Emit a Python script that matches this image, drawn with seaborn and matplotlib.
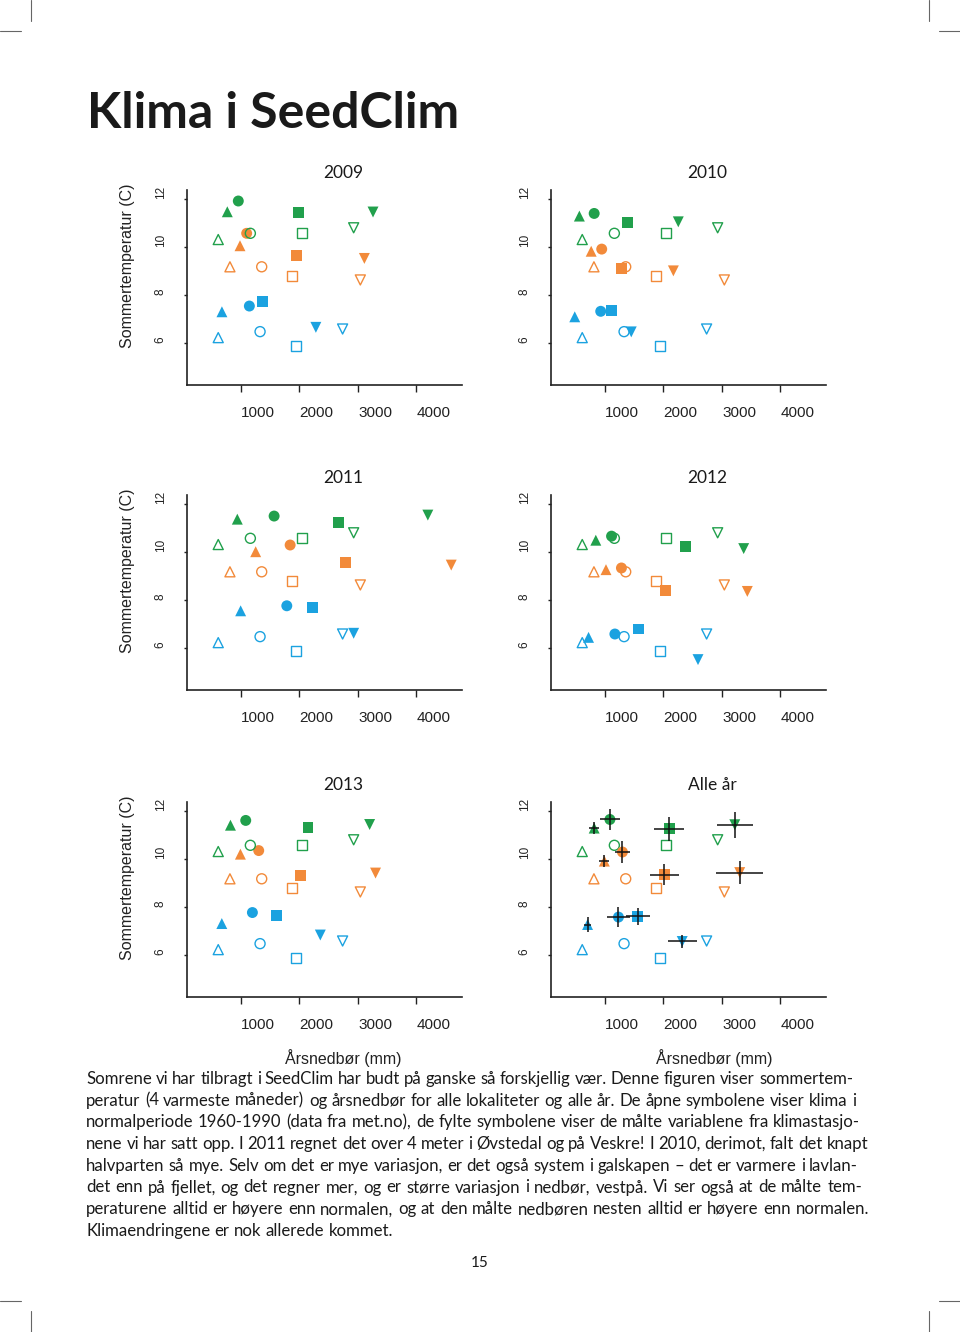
import numpy as np
import pandas as pd
import seaborn as sns
import matplotlib.pyplot as plt
from matplotlib.lines import Line2D

# === Data: 12 SeedClim sites (3 temperature zones x 4 precipitation levels) ===
zone = ["varm"] * 4 + ["mellom"] * 4 + ["kald"] * 4
level = ["1", "2", "3", "4"] * 3

# climate normals 1960-1990 (open symbols)
normal_precip = [611, 1160, 2046, 2926, 811, 1354, 1869, 3040, 611, 1326, 1943, 2737]
normal_temp = [10.31, 10.57, 10.59, 10.80, 9.17, 9.17, 8.78, 8.62, 6.21, 6.46, 5.87, 6.57]

# measured at the climate stations (filled symbols)
precip_2009 = [766, 954, 1983, 3257, 983, 1097, 1943, 3109, 674, 1143, 1371, 2280]
temp_2009 = [11.47, 11.92, 11.44, 11.46, 10.05, 10.57, 9.66, 9.52, 7.29, 7.53, 7.71, 6.64]

precip_2010 = [562, 815, 1382, 2253, 764, 944, 1281, 2169, 483, 927, 1112, 1449]
temp_2010 = [11.29, 11.40, 11.01, 11.05, 9.82, 9.91, 9.10, 9.00, 7.08, 7.31, 7.33, 6.45]

precip_2011 = [937, 1566, 2669, 4194, 1251, 1840, 2789, 4594, 994, 1783, 2217, 2926]
temp_2011 = [11.37, 11.50, 11.22, 11.54, 10.01, 10.29, 9.56, 9.45, 7.54, 7.75, 7.67, 6.60]

precip_2012 = [843, 1112, 2376, 3371, 1017, 1281, 2039, 3433, 719, 1169, 1573, 2590]
temp_2012 = [10.49, 10.66, 10.24, 10.14, 9.26, 9.33, 8.39, 8.35, 6.43, 6.57, 6.78, 5.50]

precip_2013 = [820, 1081, 2145, 3199, 990, 1303, 2015, 3300, 672, 1195, 1605, 2356]
temp_2013 = [11.41, 11.61, 11.30, 11.44, 10.20, 10.35, 9.31, 9.41, 7.30, 7.76, 7.65, 6.82]

# all years: mean with spread
precip_mean = [815, 1084, 2096, 3219, 989, 1298, 2011, 3303, 702, 1230, 1562, 2320]
temp_mean = [11.29, 11.65, 11.26, 11.43, 9.91, 10.29, 9.34, 9.43, 7.26, 7.57, 7.60, 6.55]
precip_err = [80, 170, 250, 310, 85, 135, 250, 400, 65, 200, 200, 250]
temp_err = [0.25, 0.45, 0.50, 0.55, 0.25, 0.45, 0.43, 0.48, 0.30, 0.42, 0.35, 0.28]

years = ["2009", "2010", "2011", "2012", "2013"]
measured = {
    "2009": (precip_2009, temp_2009),
    "2010": (precip_2010, temp_2010),
    "2011": (precip_2011, temp_2011),
    "2012": (precip_2012, temp_2012),
    "2013": (precip_2013, temp_2013),
}

caption_lines = [
    "Somrene vi har tilbragt i SeedClim har budt på ganske så forskjellig vær. Denne figuren viser sommertem-",
    "peratur (4 varmeste måneder) og årsnedbør for alle lokaliteter og alle år. De åpne symbolene viser klima i",
    "normalperiode 1960-1990 (data fra met.no), de fylte symbolene viser de målte variablene fra klimastasjo-",
    "nene vi har satt opp. I 2011 regnet det over 4 meter i Øvstedal og på Veskre! I 2010, derimot, falt det knapt",
    "halvparten så mye. Selv om det er mye variasjon, er det også system i galskapen – det er varmere i lavlan-",
    "det enn på fjellet, og det regner mer, og er større variasjon i nedbør, vestpå.  Vi ser også at de målte tem-",
    "peraturene alltid er høyere enn normalen, og at den målte nedbøren nesten alltid er høyere enn normalen.",
    "Klimaendringene er nok allerede kommet.",
]
# right edge of each caption line in the page (pixels)
caption_right = [853, 856, 860, 868, 858, 862, 869, None]

# === Style ===
palette = {"varm": "#21a04c", "mellom": "#f28a3a", "kald": "#1ba2e0"}
markers = {"1": "^", "2": "o", "3": "s", "4": "v"}

sns.set_style("ticks")
plt.rcParams["font.family"] = ["Liberation Sans", "DejaVu Sans"]

W, H = 960, 1332
fig = plt.figure(figsize=(9.6, 13.32), dpi=100)


def fx(px):
    return px / W


def fy(py):
    return 1 - py / H


def frame(precip, temp):
    return pd.DataFrame({"nedbor": precip, "temp": temp, "sone": zone, "niva": level})


def draw_points(ax, df, filled=True):
    sns.scatterplot(data=df, x="nedbor", y="temp", hue="sone", style="niva",
                    palette=palette, markers=markers,
                    hue_order=["varm", "mellom", "kald"], style_order=["1", "2", "3", "4"],
                    s=62 if filled else 52, linewidth=0, legend=False, ax=ax)
    if not filled:
        coll = ax.collections[-1]
        fc = coll.get_facecolors()
        coll.set_facecolors("none")
        coll.set_edgecolors(fc)
        coll.set_linewidths(1.0)


def setup_axes(ax, left_col, bottom_row):
    ax.set_xlim(77, 4778)
    ax.set_ylim(4.23, 12.38)
    ax.set_xticks([1000, 2000, 3000, 4000])
    ax.set_yticks([6, 8, 10, 12])
    sns.despine(ax=ax)
    for side in ["left", "bottom"]:
        ax.spines[side].set_linewidth(1.2)
        ax.spines[side].set_color("#222222")
    ax.tick_params(axis="x", length=5, width=1, pad=10, labelsize=11, colors="#222222")
    ax.tick_params(axis="y", length=2.5, width=1, pad=12, labelsize=8.5, colors="#222222",
                   labelrotation=90)
    for lbl in ax.get_xticklabels():
        lbl.set_ha("left")
    for lbl in ax.get_yticklabels():
        lbl.set_va("bottom")
    ax.set_xlabel("")
    ax.set_ylabel("")
    ax.set_facecolor("white")
    if left_col:
        ax.set_ylabel("Sommertemperatur (C)", fontsize=11.5, color="#222222")
        ax.yaxis.set_label_coords(-0.189, 0.61)
    if bottom_row:
        ax.text(0.567 if left_col else 0.593, -0.313, "Årsnedbør (mm)", transform=ax.transAxes,
                ha="center", va="center", fontsize=11.5, color="#222222")


# axes placement (pixels): left spine x, bottom spine y
col_x = [187, 551]
row_y = [385, 690, 997]
ax_w, ax_h = 275, 195

panels = years + ["Alle år"]
for i, name in enumerate(panels):
    r, c = divmod(i, 2)
    ax = fig.add_axes([fx(col_x[c]), fy(row_y[r]), ax_w / W, ax_h / H])
    if name == "Alle år":
        draw_points(ax, frame(normal_precip, normal_temp), filled=False)
        draw_points(ax, frame(precip_mean, temp_mean), filled=True)
        ax.errorbar(precip_mean, temp_mean, xerr=precip_err, yerr=temp_err, fmt="none",
                    ecolor="#111111", elinewidth=1.1, capsize=0, zorder=5)
        tx = 0.587
    else:
        p, t = measured[name]
        draw_points(ax, frame(p, t), filled=True)
        draw_points(ax, frame(normal_precip, normal_temp), filled=False)
        tx = 0.567
    setup_axes(ax, c == 0, r == 2)
    ax.text(tx, 1.087, name, transform=ax.transAxes, ha="center", va="center",
            fontsize=12.5, fontfamily=["Lato", "DejaVu Sans"], color="#1a1a1a")

# page title
fig.text(fx(87), fy(128), "Klima i SeedClim", fontsize=36, fontweight="bold",
         fontfamily=["Lato", "DejaVu Sans"], va="baseline", color="#1a1a1a")

# justified caption
renderer = fig.canvas.get_renderer()
x0 = 86
cap_size = 12.1
for i, line in enumerate(caption_lines):
    yb = fy(1084 + i * 21.7)
    words = line.split()
    texts = [fig.text(0, yb, w, fontsize=cap_size, fontfamily=["Lato", "DejaVu Sans"],
                      va="baseline", color="#1a1a1a") for w in words]
    widths = [t.get_window_extent(renderer).width for t in texts]
    if caption_right[i] is None:
        gap = 0.26 * cap_size * 100 / 72
    else:
        gap = (caption_right[i] - x0 - sum(widths)) / (len(words) - 1)
    x = x0
    for t, w in zip(texts, widths):
        t.set_x(fx(x))
        x += w + gap

fig.text(0.5, fy(1263), "15", ha="center", va="center", fontsize=11,
         fontfamily=["Lato", "DejaVu Sans"], color="#1a1a1a")

# crop marks
mark = dict(color="#666666", lw=0.8)
for (xa, ya, xb, yb) in [(31, 0, 31, 21), (0, 31, 21, 31), (929, 0, 929, 21), (939, 31, 960, 31),
                         (0, 1301, 21, 1301), (31, 1311, 31, 1332),
                         (939, 1301, 960, 1301), (929, 1311, 929, 1332)]:
    fig.add_artist(Line2D([fx(xa), fx(xb)], [fy(ya), fy(yb)], **mark))

fig.savefig("out.png", dpi=100)
